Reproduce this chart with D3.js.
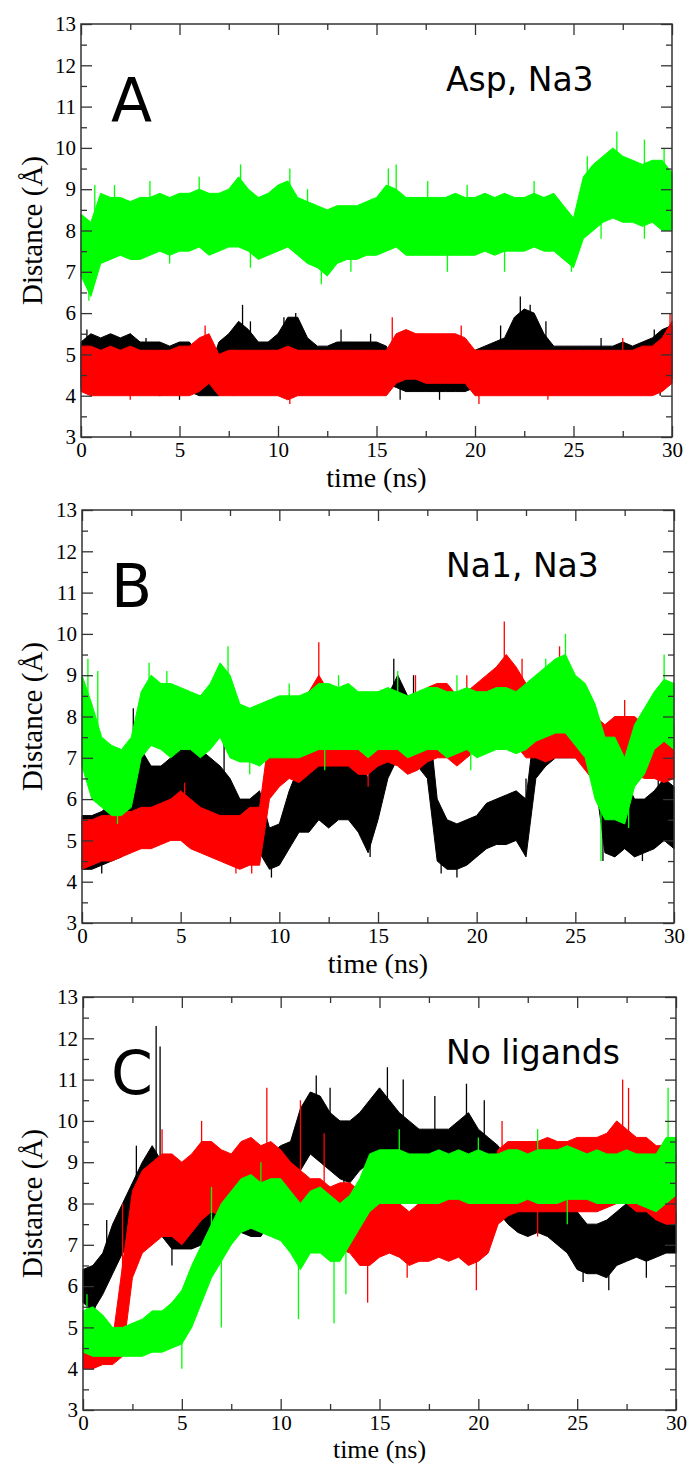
<html lang="en">
<head>
<meta charset="utf-8">
<style>
body { margin: 0; background: #fff; }
</style>
</head>
<body>
<script src="https://d3js.org/d3.v7.min.js"></script>
<script>
// time grid (ns), shared by every trace
const times = [0,0.5,1,1.5,2,2.5,3,3.5,4,4.5,5,5.5,6,6.5,7,7.5,8,8.5,9,9.5,10,10.5,11,11.5,12,12.5,13,13.5,14,14.5,15,15.5,16,16.5,17,17.5,18,18.5,19,19.5,20,20.5,21,21.5,22,22.5,23,23.5,24,24.5,25,25.5,26,26.5,27,27.5,28,28.5,29,29.5,30];

const xTicks = [0,5,10,15,20,25,30];
const xMinor = [2.5,7.5,12.5,17.5,22.5,27.5];
const yTicks = [3,4,5,6,7,8,9,10,11,12,13];
const yMinor = [3.5,4.5,5.5,6.5,7.5,8.5,9.5,10.5,11.5,12.5];

const panelLetters = ["A","B","C"];
const panelNotes = ["Asp, Na3","Na1, Na3","No ligands"];

// ---- panel A : lower / upper envelope of each trace ----
const aBlackLo = [4.2,4.1,4.1,4.1,4.1,4.1,4.1,4.1,4.0,4.1,4.1,4.1,4.0,4.0,4.0,4.3,4.3,4.4,4.3,4.3,4.3,4.5,4.5,4.3,4.2,4.2,4.3,4.3,4.3,4.3,4.3,4.3,4.2,4.1,4.1,4.1,4.1,4.1,4.1,4.1,4.2,4.3,4.3,4.3,4.8,5.0,4.9,4.5,4.3,4.3,4.2,4.2,4.2,4.2,4.2,4.2,4.2,4.2,4.3,4.3,4.4];
const aBlackHi = [5.3,5.5,5.4,5.5,5.4,5.5,5.3,5.3,5.3,5.2,5.3,5.3,5.0,4.6,5.3,5.5,5.8,5.6,5.3,5.3,5.5,5.9,5.9,5.4,5.2,5.2,5.3,5.3,5.3,5.3,5.3,5.2,4.7,4.7,4.7,4.7,4.8,4.7,4.7,4.8,5.1,5.2,5.3,5.4,5.9,6.1,6.0,5.5,5.2,5.2,5.2,5.2,5.2,5.2,5.2,5.3,5.2,5.3,5.4,5.6,5.7];
const aRedLo = [4.1,4.0,4.0,4.0,4.0,4.0,4.0,4.0,4.0,4.0,4.0,4.0,4.1,4.3,4.0,4.0,4.0,4.0,4.0,4.0,4.0,3.9,4.0,4.0,4.0,4.0,4.0,4.0,4.0,4.0,4.0,4.0,4.3,4.4,4.4,4.3,4.3,4.3,4.3,4.3,4.0,4.0,4.0,4.0,4.0,4.0,4.0,4.0,4.0,4.0,4.0,4.0,4.0,4.0,4.0,4.0,4.0,4.0,4.0,4.1,4.3];
const aRedHi = [5.2,5.2,5.1,5.2,5.1,5.2,5.1,5.1,5.1,5.1,5.2,5.2,5.4,5.5,5.0,5.1,5.1,5.1,5.1,5.1,5.1,5.2,5.1,5.1,5.1,5.1,5.1,5.1,5.1,5.1,5.1,5.1,5.5,5.6,5.5,5.5,5.5,5.5,5.5,5.4,5.1,5.1,5.1,5.1,5.1,5.1,5.1,5.1,5.1,5.1,5.1,5.1,5.1,5.1,5.1,5.1,5.1,5.2,5.2,5.4,5.8];
const aGreenLo = [6.9,6.4,7.2,7.3,7.4,7.3,7.3,7.4,7.5,7.4,7.5,7.5,7.6,7.4,7.5,7.6,7.6,7.5,7.3,7.4,7.5,7.6,7.4,7.2,7.1,6.9,7.2,7.3,7.3,7.4,7.4,7.5,7.6,7.4,7.4,7.4,7.4,7.4,7.4,7.4,7.4,7.5,7.4,7.5,7.5,7.5,7.6,7.5,7.5,7.3,7.1,7.8,8.0,8.2,8.3,8.2,8.2,8.1,8.2,8.0,8.0];
const aGreenHi = [8.4,8.2,8.9,8.8,8.8,8.7,8.8,8.8,8.9,8.8,8.9,8.9,9.0,8.9,8.9,9.0,9.3,9.0,8.8,8.9,9.1,9.2,8.8,8.7,8.6,8.5,8.6,8.6,8.6,8.7,8.8,9.1,9.0,8.8,8.8,8.8,8.8,8.8,8.9,8.8,8.8,8.9,8.8,8.9,8.8,8.8,8.9,8.8,8.9,8.6,8.3,9.3,9.6,9.8,10.0,9.8,9.7,9.6,9.7,9.7,9.4];

// ---- panel B ----
const bBlackLo = [4.3,4.3,4.4,4.5,4.6,4.8,5.2,5.0,5.0,5.3,5.2,5.2,5.5,5.3,5.0,5.0,4.8,4.8,4.7,4.3,4.4,4.8,5.2,5.2,5.5,5.3,5.5,5.5,5.2,4.7,5.5,6.5,7.0,6.8,6.8,6.5,4.5,4.3,4.3,4.4,4.6,4.8,4.9,4.9,5.0,4.6,6.5,6.8,7.0,7.0,7.0,7.0,6.5,4.7,4.6,4.8,4.6,4.7,4.8,5.0,4.8];
const bBlackHi = [5.6,5.6,5.7,5.9,6.0,7.0,7.2,6.8,6.8,7.0,7.3,7.4,7.2,7.0,6.8,6.5,6.0,6.0,6.2,5.3,5.4,6.2,6.8,7.0,7.2,7.0,7.4,7.3,7.0,6.5,7.5,8.5,9.0,8.5,8.5,8.3,6.0,5.5,5.4,5.5,5.6,5.9,6.0,6.1,6.2,6.0,8.0,8.5,8.6,8.5,8.6,8.5,8.2,6.5,6.5,6.5,6.0,6.0,6.2,6.5,6.3];
const bRedLo = [4.3,4.4,4.5,4.5,4.6,4.7,4.8,4.8,4.9,5.0,5.0,4.8,4.7,4.6,4.5,4.4,4.3,4.4,4.4,6.0,6.3,6.5,6.4,6.6,6.8,6.8,6.8,6.8,6.6,6.6,6.8,6.9,6.8,6.6,6.7,6.9,7.0,7.0,6.8,7.0,7.2,7.2,7.4,7.5,7.3,7.0,7.0,6.9,7.0,7.0,7.0,6.7,6.4,6.3,6.5,6.6,6.6,6.5,6.5,6.4,6.5];
const bRedHi = [5.5,5.5,5.6,5.6,5.7,5.7,5.8,5.8,5.9,6.0,6.2,6.0,5.8,5.7,5.6,5.6,5.6,5.8,5.8,7.6,8.0,8.0,8.2,8.6,9.0,8.6,8.6,8.5,8.3,8.4,8.5,8.6,8.6,8.4,8.5,8.7,8.8,8.8,8.5,8.6,8.8,9.0,9.2,9.5,9.2,8.8,8.7,8.6,8.8,8.8,8.7,8.3,8.0,7.8,8.0,8.0,8.0,7.8,7.8,7.6,7.8];
const bGreenLo = [6.8,6.0,5.8,5.6,5.6,5.8,7.0,7.3,7.2,7.0,7.2,7.2,7.0,7.2,7.5,7.0,6.9,6.9,6.8,7.0,7.0,7.0,7.0,7.1,7.2,7.2,7.2,7.2,7.2,7.0,7.2,7.2,7.2,7.0,7.1,7.2,7.2,7.0,7.1,7.2,7.0,7.1,7.2,7.2,7.1,7.2,7.4,7.5,7.6,7.6,7.3,7.0,6.0,5.5,5.5,5.4,6.3,6.6,7.2,7.4,7.2];
const bGreenHi = [9.0,8.3,7.5,7.3,7.2,7.5,8.6,9.0,8.8,8.8,8.7,8.6,8.5,8.8,9.3,9.0,8.3,8.2,8.3,8.4,8.5,8.5,8.5,8.6,8.8,8.8,8.7,8.8,8.6,8.6,8.6,8.7,8.6,8.5,8.6,8.7,8.7,8.6,8.6,8.7,8.6,8.6,8.7,8.7,8.6,8.8,9.0,9.2,9.4,9.5,9.0,8.8,8.3,7.5,7.5,7.0,7.8,8.2,8.6,8.9,8.8];

// ---- panel C ----
const cBlackLo = [5.6,5.4,5.8,6.3,6.8,7.0,7.2,7.4,7.2,6.9,6.9,6.9,7.0,7.0,7.0,7.3,7.3,7.2,7.2,7.6,7.8,8.0,8.8,9.2,9.0,8.8,8.6,8.5,8.8,9.0,9.2,9.0,8.6,8.4,8.3,8.2,8.4,8.2,8.4,8.5,8.3,8.0,7.8,7.5,7.3,7.2,7.3,7.2,7.0,6.8,6.4,6.3,6.3,6.2,6.5,6.6,6.7,6.6,6.7,6.8,6.8];
const cBlackHi = [6.4,6.5,6.8,7.5,8.0,8.5,9.0,9.4,9.0,8.0,7.8,7.8,8.2,8.6,8.6,8.8,8.8,8.8,9.0,9.2,9.4,9.5,10.3,10.7,10.6,10.2,10.0,10.0,10.2,10.5,10.8,10.5,10.2,10.0,9.8,9.8,9.8,9.8,10.0,10.2,9.8,9.6,9.4,9.0,8.7,8.5,8.6,8.5,8.4,8.3,7.8,7.5,7.5,7.6,7.8,8.0,8.0,8.0,8.0,8.0,7.8];
const cRedLo = [4.0,4.0,4.1,4.1,4.3,6.2,6.8,7.0,7.2,7.2,7.0,7.3,7.6,7.8,7.7,7.6,7.6,7.8,7.7,7.8,7.5,7.4,7.2,7.0,7.0,6.8,6.9,6.8,6.5,6.5,6.7,6.8,6.7,6.5,6.6,6.6,6.7,6.6,6.7,6.5,6.6,6.8,7.5,7.7,7.8,7.8,7.8,7.8,7.8,7.8,7.8,7.8,7.8,7.9,8.0,8.0,7.8,7.8,7.6,7.5,7.5];
const cRedHi = [4.6,4.6,4.7,4.7,6.5,8.3,8.8,9.0,9.2,9.2,9.0,9.2,9.5,9.5,9.3,9.2,9.5,9.6,9.4,9.5,9.3,9.0,8.8,8.6,8.6,8.4,8.5,8.5,8.3,8.2,8.3,8.2,8.0,7.8,8.0,8.2,8.0,8.2,8.2,8.0,8.2,8.4,9.3,9.5,9.5,9.5,9.5,9.6,9.5,9.5,9.6,9.6,9.6,9.7,10.0,9.8,9.6,9.6,9.4,9.4,9.2];
const cGreenLo = [4.4,4.3,4.3,4.3,4.3,4.3,4.3,4.4,4.4,4.5,4.6,5.0,5.6,6.2,6.6,7.0,7.3,7.4,7.3,7.2,7.1,6.8,6.4,6.8,6.8,6.6,6.6,7.0,7.4,7.8,8.0,8.0,8.0,8.0,8.0,8.0,8.0,8.1,8.1,8.0,8.0,8.0,8.0,8.0,8.0,8.1,8.0,8.0,8.0,8.1,8.1,8.1,8.0,8.0,8.0,8.0,8.0,7.9,7.8,8.0,8.2];
const cGreenHi = [5.4,5.5,5.3,5.0,5.0,5.1,5.2,5.4,5.4,5.6,5.9,6.5,7.0,7.5,8.0,8.3,8.6,8.7,8.5,8.6,8.6,8.3,8.0,8.3,8.4,8.2,8.0,8.2,8.6,9.2,9.3,9.3,9.3,9.2,9.2,9.2,9.3,9.2,9.3,9.2,9.3,9.2,9.2,9.3,9.3,9.2,9.3,9.3,9.3,9.4,9.3,9.2,9.3,9.2,9.2,9.3,9.2,9.2,9.2,9.6,9.6];

// single excursions beyond the envelope: [time, distance]
const aBlackSpikes = [[0.3,5.6],[2.5,5.5],[3.3,5.4],[5.0,3.9],[7.8,4.0],[8.2,6.2],[8.6,5.8],[10.3,5.9],[10.9,6.0],[13.2,5.6],[14.7,5.5],[16.2,3.9],[18.2,3.9],[21.3,5.7],[22.3,6.4],[22.8,6.2],[23.6,5.8],[26.4,5.4],[29.1,5.6],[29.4,4.0]];
const aRedSpikes = [[2.5,3.9],[6.3,5.7],[10.6,3.8],[15.8,5.9],[19.3,5.7],[20.2,3.8],[23.7,3.9],[27.5,5.4],[29.9,6.0]];
const aGreenSpikes = [[0.4,6.3],[0.7,9.1],[1.7,9.1],[3.5,9.2],[4.5,7.2],[6.0,9.3],[8.1,9.6],[8.6,7.1],[10.6,9.5],[11.5,9.0],[12.2,6.7],[13.7,7.0],[15.6,9.5],[16.0,9.6],[17.6,9.2],[18.6,7.0],[19.6,9.1],[21.5,7.0],[23.0,9.2],[24.9,7.0],[25.7,9.8],[26.4,7.8],[27.2,10.4],[28.6,10.2],[28.6,7.8],[29.6,10.0]];
const bBlackSpikes = [[1.0,4.2],[2.6,8.2],[5.6,7.6],[7.2,7.4],[9.6,4.1],[11.9,7.4],[13.4,7.8],[14.6,4.6],[15.8,9.4],[16.8,9.0],[18.2,4.2],[19.0,4.1],[22.5,6.5],[23.8,8.8],[25.3,8.7],[26.4,4.5],[28.4,4.5],[29.2,6.8]];
const bRedSpikes = [[5.2,6.4],[7.8,4.2],[8.6,4.2],[9.6,7.9],[12.0,9.8],[14.5,6.3],[16.9,9.0],[19.5,9.0],[21.4,10.3],[22.3,9.4],[24.2,9.7],[26.5,6.0],[27.5,8.4]];
const bGreenSpikes = [[0.3,9.4],[0.8,9.1],[1.8,5.4],[3.4,9.3],[4.3,9.1],[7.4,9.7],[8.5,6.6],[10.5,8.8],[12.3,6.7],[13.0,9.0],[16.0,9.1],[19.0,9.0],[19.7,6.7],[23.5,9.4],[24.5,10.0],[26.3,4.5],[27.7,5.3],[29.5,9.5]];
const cBlackSpikes = [[0.6,5.3],[1.2,7.6],[2.7,9.4],[3.7,12.3],[3.9,11.8],[4.5,6.5],[6.6,9.3],[11.8,11.1],[12.5,10.8],[13.2,8.2],[15.4,11.3],[16.2,11.0],[17.8,10.6],[19.4,10.9],[20.3,10.5],[22.5,9.4],[25.3,6.1],[26.6,5.9],[27.6,8.6],[28.5,6.2],[29.4,8.4]];
const cRedSpikes = [[2.0,8.0],[4.0,9.8],[6.0,10.0],[9.3,10.8],[11.0,10.5],[12.2,9.7],[14.4,5.6],[16.4,6.2],[17.2,9.2],[19.9,5.9],[21.2,10.0],[23.0,7.2],[27.3,11.0],[27.6,10.8]];
const cGreenSpikes = [[0.2,5.8],[5.0,4.0],[6.5,8.4],[7.0,5.0],[9.0,9.0],[10.9,5.2],[12.7,5.1],[13.3,5.8],[16.0,9.8],[20.0,9.6],[23.0,9.8],[24.5,7.5],[29.6,10.8]];

const seriesColors = ["#000000","#ff0000","#00ff00"];

const panelSeries = [
  [[aBlackLo,aBlackHi,aBlackSpikes],[aRedLo,aRedHi,aRedSpikes],[aGreenLo,aGreenHi,aGreenSpikes]],
  [[bBlackLo,bBlackHi,bBlackSpikes],[bRedLo,bRedHi,bRedSpikes],[bGreenLo,bGreenHi,bGreenSpikes]],
  [[cBlackLo,cBlackHi,cBlackSpikes],[cRedLo,cRedHi,cRedSpikes],[cGreenLo,cGreenHi,cGreenSpikes]]
];

// layout of the three frames
const frames = [
  {left: 81, right: 672, top: 24, titleY: 50, titleSize: 28},
  {left: 82, right: 674, top: 510, titleY: 50, titleSize: 28},
  {left: 83, right: 676, top: 997, titleY: 48, titleSize: 26}
];
const plotH = 413;

const svg = d3.select("body").append("svg")
  .attr("width", 689)
  .attr("height", 1464);

frames.forEach(function(f, p) {
  const w = f.right - f.left;
  const g = svg.append("g").attr("transform", "translate(" + f.left + "," + f.top + ")");

  const x = d3.scaleLinear().domain([0, 30]).range([0, w]);
  const y = d3.scaleLinear().domain([3, 13]).range([plotH, 0]);

  // traces: black, red, green (green on top)
  panelSeries[p].forEach(function(s, k) {
    const lo = s[0], hi = s[1], spikes = s[2];
    const pts = times.map(function(t, i) { return {t: t, lo: lo[i], hi: hi[i]}; });
    const area = d3.area()
      .x(function(d) { return x(d.t); })
      .y0(function(d) { return y(d.lo); })
      .y1(function(d) { return y(d.hi); });
    g.append("path")
      .datum(pts)
      .attr("d", area)
      .attr("fill", seriesColors[k])
      .attr("stroke", seriesColors[k])
      .attr("stroke-width", 1);

    g.selectAll(".spk" + k)
      .data(spikes)
      .enter().append("line")
      .attr("class", "spk" + k)
      .attr("x1", function(d) { return x(d[0]); })
      .attr("x2", function(d) { return x(d[0]); })
      .attr("y1", function(d) {
        const i = Math.round(d[0] * 2);
        return y((lo[i] + hi[i]) / 2);
      })
      .attr("y2", function(d) { return y(d[1]); })
      .attr("stroke", seriesColors[k])
      .attr("stroke-width", 1.3);
  });

  // ticks pointing inward on all four sides
  const tickStyle = function(sel) {
    sel.select(".domain").remove();
    sel.selectAll("line").attr("stroke", "#333").attr("stroke-width", 1.3);
    sel.selectAll("text")
      .attr("font-family", "'Liberation Serif', 'Times New Roman', serif")
      .attr("font-size", 21)
      .attr("fill", "#000");
  };

  g.append("g").attr("transform", "translate(0," + plotH + ")")
    .call(d3.axisBottom(x).tickValues(xTicks).tickSize(-11).tickPadding(5))
    .call(tickStyle);
  g.append("g").attr("transform", "translate(0," + plotH + ")")
    .call(d3.axisBottom(x).tickValues(xMinor).tickSize(-6).tickFormat(""))
    .call(tickStyle);
  g.append("g")
    .call(d3.axisTop(x).tickValues(xTicks).tickSize(-11).tickFormat(""))
    .call(tickStyle);
  g.append("g")
    .call(d3.axisTop(x).tickValues(xMinor).tickSize(-6).tickFormat(""))
    .call(tickStyle);

  g.append("g")
    .call(d3.axisLeft(y).tickValues(yTicks).tickSize(-11).tickPadding(5))
    .call(tickStyle);
  g.append("g")
    .call(d3.axisLeft(y).tickValues(yMinor).tickSize(-6).tickFormat(""))
    .call(tickStyle);
  g.append("g").attr("transform", "translate(" + w + ",0)")
    .call(d3.axisRight(y).tickValues(yTicks).tickSize(-11).tickFormat(""))
    .call(tickStyle);
  g.append("g").attr("transform", "translate(" + w + ",0)")
    .call(d3.axisRight(y).tickValues(yMinor).tickSize(-6).tickFormat(""))
    .call(tickStyle);

  // frame
  g.append("rect")
    .attr("width", w)
    .attr("height", plotH)
    .attr("fill", "none")
    .attr("stroke", "#333")
    .attr("stroke-width", 1.5);

  // axis titles
  g.append("text")
    .attr("x", w / 2)
    .attr("y", plotH + f.titleY)
    .attr("text-anchor", "middle")
    .attr("font-family", "'Liberation Serif', 'Times New Roman', serif")
    .attr("font-size", f.titleSize)
    .text("time (ns)");

  g.append("text")
    .attr("transform", "translate(" + (42 - f.left) + "," + (plotH / 2) + ") rotate(-90)")
    .attr("text-anchor", "middle")
    .attr("font-family", "'Liberation Serif', 'Times New Roman', serif")
    .attr("font-size", 29)
    .text("Distance (Å)");

  // panel letter and note
  g.append("text")
    .attr("x", 111 - f.left)
    .attr("y", 97)
    .attr("font-family", "'DejaVu Sans', sans-serif")
    .attr("font-size", 60)
    .text(panelLetters[p]);

  g.append("text")
    .attr("x", 446 - f.left)
    .attr("y", 67)
    .attr("font-family", "'DejaVu Sans', sans-serif")
    .attr("font-size", 33)
    .text(panelNotes[p]);
});
</script>
</body>
</html>
